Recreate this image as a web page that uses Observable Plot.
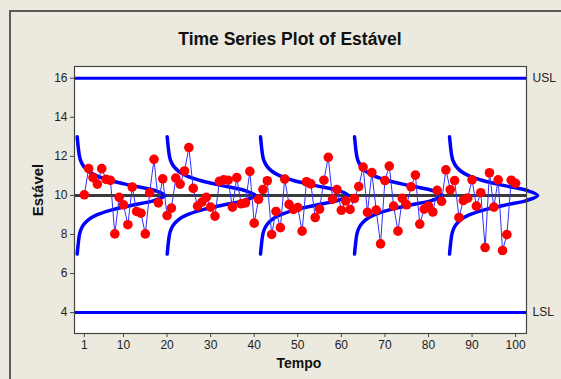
<!DOCTYPE html>
<html>
<head>
<meta charset="utf-8">
<script src="https://cdn.jsdelivr.net/npm/d3@7"></script>
<script src="https://cdn.jsdelivr.net/npm/@observablehq/plot@0.6"></script>
<style>
  body { margin: 0; background: #ece9df; }
  #wrap { position: relative; width: 561px; height: 379px; background: #ece9df; overflow: hidden;
          font-family: "Liberation Sans", Arial, sans-serif; color: #222; }
  #border { position: absolute; left: 9px; top: 10px; width: 600px; height: 400px;
            border-left: 2px solid #5a5a5a; border-top: 2px solid #5a5a5a; }
  #chart { position: absolute; left: 0; top: 0; }
  .lbl { position: absolute; font-weight: bold; white-space: nowrap; color: #111; }
  #title { top: 29px; left: 290px; transform: translateX(-50%); font-size: 17.5px; }
  #xlab { top: 355px; left: 299px; transform: translateX(-50%); font-size: 14px; }
  #ylab { top: 190px; left: 37px; transform: translate(-50%, -50%) rotate(-90deg); font-size: 15px; }
</style>
</head>
<body>
<div id="wrap">
  <div id="border"></div>
  <div id="chart"></div>
  <div class="lbl" id="title">Time Series Plot of Estável</div>
  <div class="lbl" id="xlab">Tempo</div>
  <div class="lbl" id="ylab">Estável</div>
</div>
<script>
// ---- data ----
const estavel = [
  10.03, 11.37, 10.91, 10.58, 11.37, 10.82, 10.77, 8.03, 9.90, 9.52,
  8.50, 10.43, 9.18, 9.09, 8.03, 10.14, 11.85, 9.62, 10.85, 8.97,
  9.35, 10.89, 10.58, 11.25, 12.45, 10.36, 9.45, 9.66, 9.90, 9.40,
  8.94, 10.72, 10.80, 10.78, 9.40, 10.91, 9.57, 9.62, 11.23, 8.58,
  9.80, 10.30, 10.75, 8.00, 9.18, 8.35, 10.84, 9.54, 9.28, 9.38,
  8.17, 10.70, 10.59, 8.87, 9.30, 10.78, 11.95, 9.81, 10.30, 9.24,
  9.72, 9.28, 9.84, 10.45, 11.45, 9.13, 11.17, 9.25, 7.52, 10.76,
  11.50, 9.45, 8.17, 9.85, 9.52, 10.44, 11.04, 8.53, 9.30, 9.46,
  9.15, 10.26, 9.70, 11.31, 10.29, 10.76, 8.87, 9.74, 9.86, 10.80,
  9.45, 10.14, 7.33, 11.16, 9.40, 10.80, 7.18, 7.99, 10.78, 10.62
];
const specValues = [16, 4];
const specLabels = ["USL", "LSL"];
const centerValue = 10;
const xTicks = [1, 10, 20, 30, 40, 50, 60, 70, 80, 90, 100];
const yTicks = [4, 6, 8, 10, 12, 14, 16];

// overlaid distribution curves (positions along Tempo, profile)
const curveStarts = [-0.63, 20.03, 41.45, 63.03, 84.84];
const curveWidth = 20.2;
const profileOffset = [-3, -2.5, -2, -1.75, -1.5, -1.25, -1, -0.75, -0.5, -0.25, 0,
                       0.25, 0.5, 0.75, 1, 1.25, 1.5, 1.75, 2, 2.5, 3];
const profileWidth  = [0, 0.011, 0.026, 0.042, 0.072, 0.126, 0.222, 0.385, 0.625, 0.882, 1,
                       0.882, 0.625, 0.385, 0.222, 0.126, 0.072, 0.042, 0.026, 0.011, 0];

// ---- tables built from the arrays ----
const series = estavel.map((v, i) => ({t: i + 1, v}));
const specs = specValues.map((v, i) => ({v, label: specLabels[i]}));
const curves = [];
curveStarts.forEach((s, k) => {
  profileOffset.forEach((d, i) => {
    curves.push({k, x: s + profileWidth[i] * curveWidth, y: centerValue + d});
  });
});

const chart = Plot.plot({
  width: 561,
  height: 379,
  marginLeft: 74,
  marginRight: 35,
  marginTop: 66,
  marginBottom: 46,
  style: {background: "transparent", fontFamily: "Liberation Sans, Arial, sans-serif", fontSize: "12px", color: "#222", overflow: "visible"},
  x: {domain: [-1.25, 102.5]},
  y: {domain: [2.93, 16.6]},
  marks: [
    Plot.frame({fill: "white"}),
    Plot.ruleY([centerValue], {stroke: "#3a3a3a", strokeWidth: 3}),
    Plot.ruleY(specs, {y: "v", stroke: "#0000ff", strokeWidth: 3}),
    Plot.line(curves, {x: "x", y: "y", z: "k", stroke: "#0000ff", strokeWidth: 3.5, curve: "catmull-rom"}),
    Plot.line(series, {x: "t", y: "v", stroke: "#2f2fff", strokeWidth: 1}),
    Plot.dot(series, {x: "t", y: "v", r: 4.8, fill: "#ff0000", stroke: "none"}),
    Plot.frame({stroke: "#444", strokeWidth: 1.2}),
    Plot.axisX({ticks: xTicks, tickSize: 4, tickPadding: 3, label: null, fontSize: 12, stroke: "#444"}),
    Plot.axisY({ticks: yTicks, tickSize: 4, tickPadding: 3, label: null, fontSize: 12, stroke: "#444"}),
    Plot.text(specs, {y: "v", text: "label", frameAnchor: "right", textAnchor: "start", dx: 6, fontSize: 12, fill: "#222"})
  ]
});
document.getElementById("chart").appendChild(chart);
</script>
</body>
</html>
